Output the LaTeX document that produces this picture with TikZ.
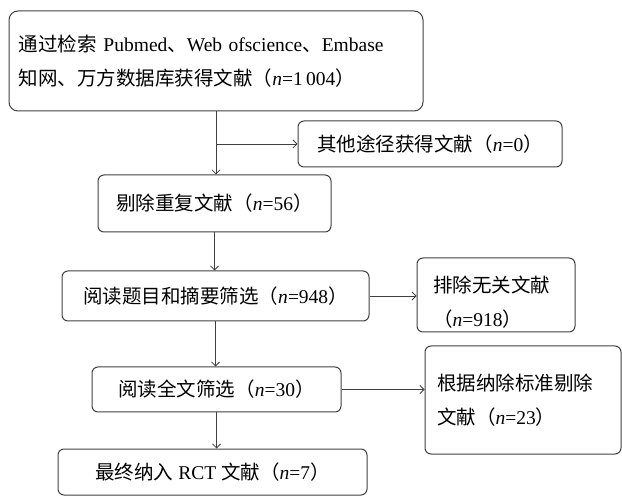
\documentclass[tikz,border=0pt]{standalone}
\usepackage{fontspec}
\setmainfont{Liberation Serif}
\newfontfamily\cjk{Noto Sans CJK SC}
\usetikzlibrary{arrows.meta}
\newcommand\zh[1]{{\cjk #1}}
\newcommand\nn[1]{\zh{（}\textit{n}=#1\zh{）}}
\begin{document}
\begin{tikzpicture}[x=1pt, y=-1pt, line width=1pt, >={Straight Barb[length=4pt,width=8pt]},
  main box/.style={draw=black!75, rounded corners=6pt, inner sep=0pt, align=center, font=\fontsize{19.5}{34}\selectfont},
  side box/.style={main box, align=left, text width=#1}]
\useasboundingbox (0,0) rectangle (622,497);
\begin{scope}
\node[main box, rounded corners=9pt, minimum width=414pt, minimum height=100pt, align=left, text width=394pt] (src) at (216,61)
  {\zh{通过检索} Pubmed\zh{、}Web ofscience\zh{、}Embase\\\zh{知网、万方数据库获得文献}\nn{1\,004}};
\node[main box, minimum width=264pt, minimum height=46pt] (oth) at (430,144) {\zh{其他途径获得文献}\nn{0}};
\node[main box, minimum width=233pt, minimum height=57pt] (dup) at (214.5,203.5) {\zh{剔除重复文献}\nn{56}};
\node[main box, minimum width=307pt, minimum height=50pt] (scr) at (215.5,296) {\zh{阅读题目和摘要筛选}\nn{948}};
\node[side box=126pt, minimum width=158pt, minimum height=74pt] (irr) at (496,295) {\rule{0pt}{30pt}\zh{排除无关文献}\\\nn{918}};
\node[main box, minimum width=249pt, minimum height=45pt] (ful) at (216.5,389.5) {\zh{阅读全文筛选}\nn{30}};
\node[side box=172pt, minimum width=196pt, minimum height=108pt] (exc) at (523,400) {\zh{根据纳除标准剔除}\\\zh{文献}\nn{23}};
\node[main box, minimum width=309pt, minimum height=46pt] (inc) at (212.5,472) {\zh{最终纳入} RCT \zh{文献}\nn{7}};
\end{scope}
\coordinate (br) at (src.south |- oth.west);
\begin{scope}[every edge/.style={draw=black!75, line width=0.8pt, ->}]
\draw (src.south) edge (src.south |- dup.north);
\draw (br) edge (oth.west);
\draw (dup.south) edge (dup.south |- scr.north);
\draw (scr.east) edge (scr.east -| irr.west);
\draw (scr.south) edge (scr.south |- ful.north);
\draw (ful.east) edge (ful.east -| exc.west);
\draw (ful.south) edge (ful.south |- inc.north);
\end{scope}
\end{tikzpicture}
\end{document}
